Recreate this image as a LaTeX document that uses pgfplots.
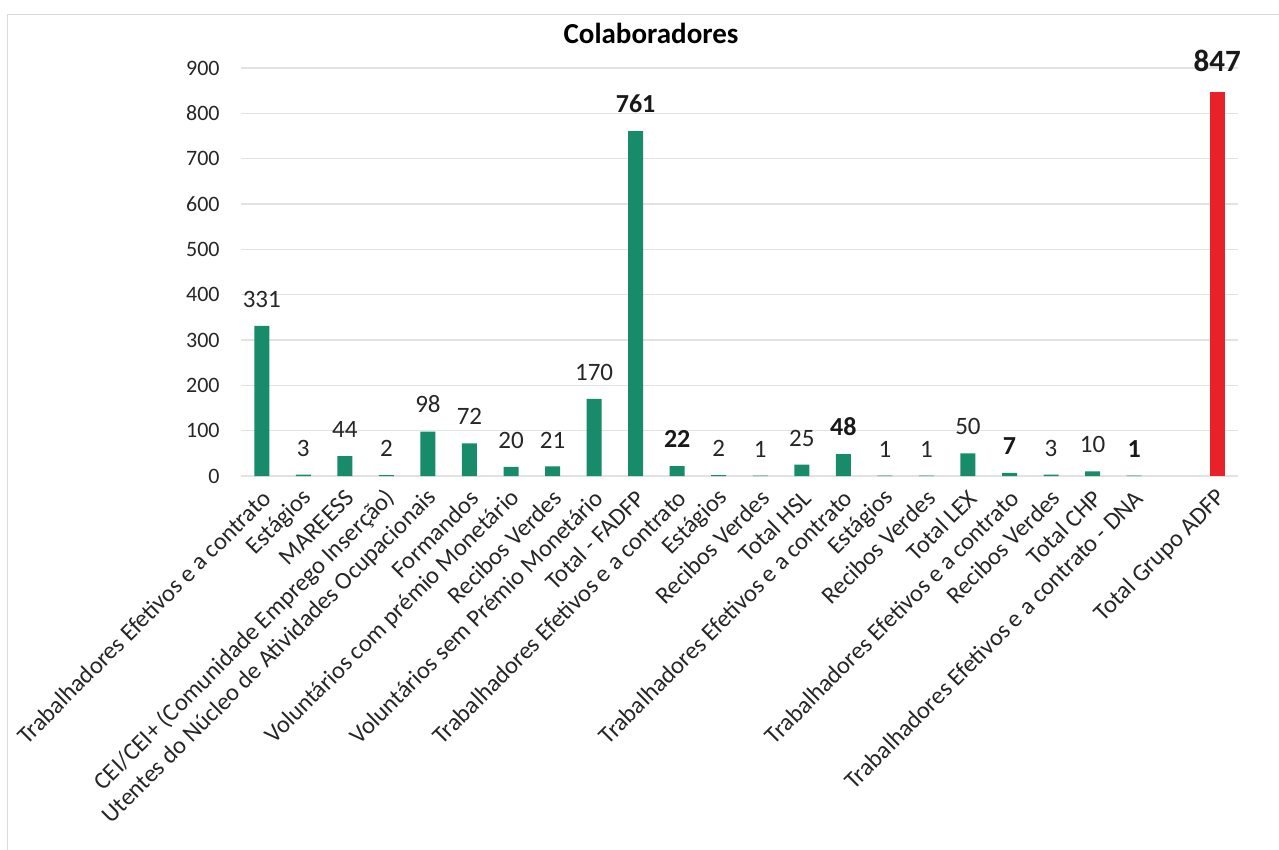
\documentclass[border=0pt]{standalone}
\usepackage{pgfplots}
\pgfplotsset{compat=1.18}
\usepackage{fontspec}
\setmainfont{Carlito}
\definecolor{barg}{RGB}{24,140,106}
\definecolor{barr}{RGB}{232,34,40}
\definecolor{gridc}{RGB}{226,226,226}
\begin{document}
\begin{tikzpicture}
\useasboundingbox (-120.5pt,-187pt) rectangle (519pt,238pt);
\draw[gray!30, line width=0.5pt] (-116.5pt,-187pt) -- (-116.5pt,230.5pt) -- (519pt,230.5pt);
\begin{axis}[
  scale only axis,
  width=498.5pt, height=204pt,
  xmin=-0.5, xmax=23.5,
  ymin=0, ymax=900,
  ytick={0,100,...,900},
  xtick={0,...,21,23},
  xticklabels={
    {Trabalhadores Efetivos e a contrato},
    {Estágios},
    {MAREESS},
    {CEI/CEI+ (Comunidade Emprego Inserção)},
    {Utentes do Núcleo de Atividades Ocupacionais},
    {Formandos},
    {Voluntários com prémio Monetário},
    {Recibos Verdes},
    {Voluntários sem Prémio Monetário},
    {Total - FADFP},
    {Trabalhadores Efetivos e a contrato},
    {Estágios},
    {Recibos Verdes},
    {Total HSL},
    {Trabalhadores Efetivos e a contrato},
    {Estágios},
    {Recibos Verdes},
    {Total LEX},
    {Trabalhadores Efetivos e a contrato},
    {Recibos Verdes},
    {Total CHP},
    {Trabalhadores Efetivos e a contrato - DNA},
    {Total Grupo ADFP}},
  axis x line*=bottom,
  axis y line*=left,
  x axis line style={draw=gridc, line width=0.8pt, -},
  y axis line style={draw=none},
  ymajorgrids,
  grid style={draw=gridc, line width=0.6pt},
  major tick length=0pt,
  tick style={draw=none},
  /pgf/number format/assume math mode=true,
  y tick label style={font=\fontsize{11}{12}\selectfont, color=black!85, inner sep=0pt, xshift=-10.5pt},
  x tick label style={xshift=2.5pt, yshift=-9pt, font=\fontsize{12.2}{14}\selectfont, color=black!85, rotate=45, anchor=east, inner sep=0pt},
  clip=false,
]
\addplot[ybar, bar width=7.5pt, bar shift=0pt, fill=barg, draw=none] coordinates {
 (0,331) (1,3) (2,44) (3,2) (4,98) (5,72) (6,20) (7,21) (8,170) (9,761)
 (10,22) (11,2) (12,1) (13,25) (14,48) (15,1) (16,1) (17,50) (18,7)
 (19,3) (20,10) (21,1)};
\addplot[ybar, bar width=7.5pt, bar shift=0pt, fill=barr, draw=none] coordinates {(23,847)};
% normal labels
\addplot[draw=none, nodes near coords,
  nodes near coords style={anchor=south, inner sep=0pt, yshift=9pt, font=\fontsize{12.5}{13}\selectfont, color=black!85}]
  coordinates {(0,331) (1,3) (2,44) (3,2) (4,98) (5,72) (6,20) (7,21) (8,170)
  (11,2) (12,1) (13,25) (15,1) (16,1) (17,50) (19,3) (20,10)};
% bold labels
\addplot[draw=none, nodes near coords,
  nodes near coords style={anchor=south, inner sep=0pt, yshift=9pt, font=\bfseries\fontsize{13}{14}\selectfont, color=black!90}]
  coordinates {(9,761) (10,22) (14,48) (18,7) (21,1)};
\addplot[draw=none, nodes near coords,
  nodes near coords style={anchor=south, inner sep=0pt, yshift=10pt, font=\bfseries\fontsize{15.5}{17}\selectfont, color=black!90}]
  coordinates {(23,847)};
\end{axis}
\node[font=\bfseries\fontsize{14.5}{16}\selectfont] at (205pt,221.5pt) {Colaboradores};
\end{tikzpicture}
\end{document}
